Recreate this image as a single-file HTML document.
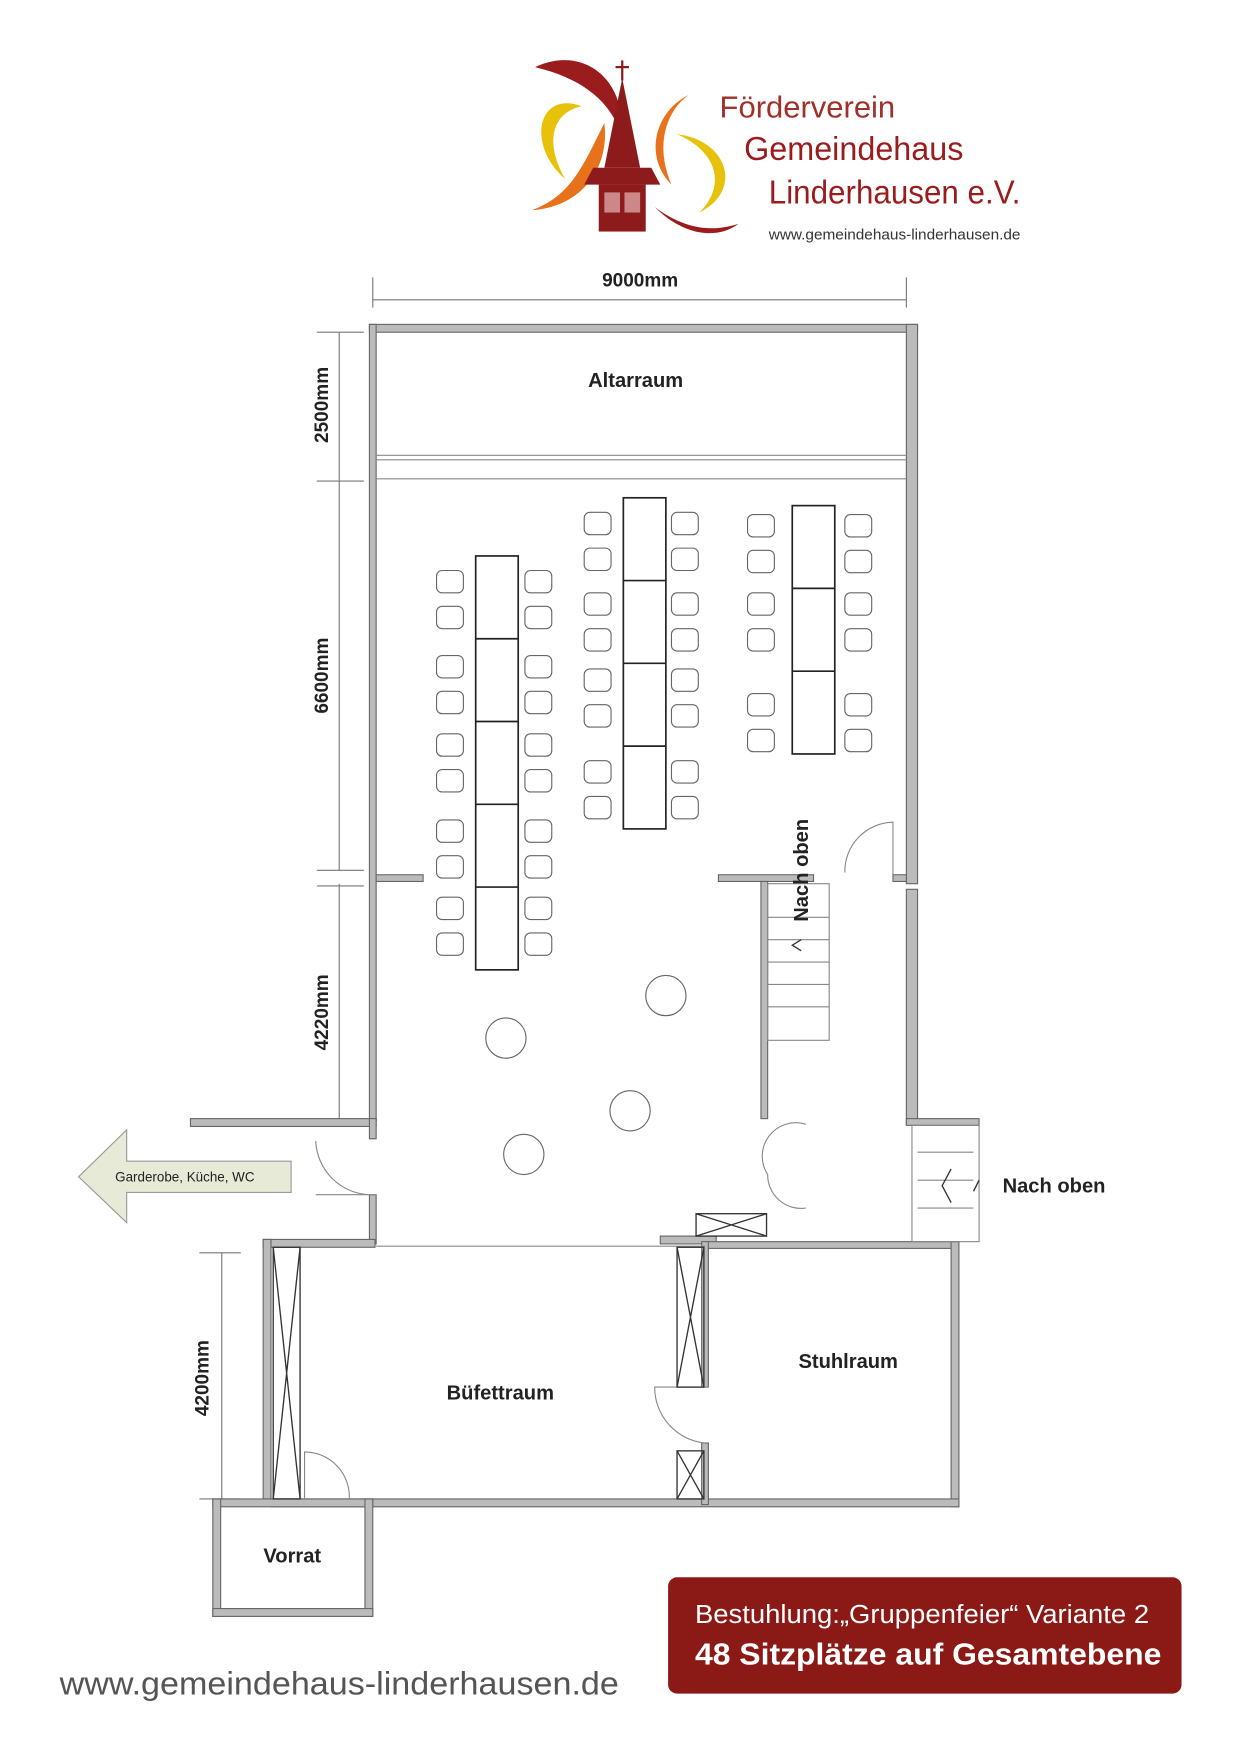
<!DOCTYPE html>
<html><head><meta charset="utf-8"><style>
html,body{margin:0;padding:0;background:#fff}
svg{display:block}
text{font-family:"Liberation Sans",sans-serif}
</style></head><body>
<svg width="1240" height="1754" viewBox="0 0 1108 1568" xmlns="http://www.w3.org/2000/svg">
<rect width="1108" height="1568" fill="#fff"/>
<!-- Logo -->
<path d="M478 60 C520 40 560 70 555 120 C545 90 520 70 478 60Z" fill="#9b1c1c"/>
<path d="M520 95 C480 80 470 130 505 160 C485 125 495 100 520 95Z" fill="#e8c20a"/>
<path d="M540 110 C520 150 510 175 475 188 C520 185 545 150 540 110Z" fill="#e8721c"/>
<path d="M615 85 C585 100 575 140 600 165 C585 130 595 100 615 85Z" fill="#e8721c"/>
<path d="M605 120 C650 125 665 170 625 190 C650 165 640 135 605 120Z" fill="#e8c20a"/>
<path d="M585 185 C610 210 640 215 660 200 C630 210 605 200 585 185Z" fill="#9b1c1c"/>
<polygon points="556,70 540,150 572,150" fill="#8e1b1b"/>
<line x1="556" y1="54" x2="556" y2="72" stroke="#8e1b1b" stroke-width="2"/>
<line x1="550" y1="60" x2="562" y2="60" stroke="#8e1b1b" stroke-width="2"/>
<polygon points="530,150 582,150 590,165 522,165" fill="#8e1b1b"/>
<rect x="535" y="165" width="42" height="42" fill="#8e1b1b"/>
<rect x="540" y="172" width="14" height="18" fill="#c88"/>
<rect x="558" y="172" width="14" height="18" fill="#c88"/>
<text x="643" y="105" font-size="27" fill="#a0302a" textLength="157" lengthAdjust="spacingAndGlyphs">Förderverein</text>
<text x="665" y="143" font-size="30" fill="#9b1c1c" textLength="196" lengthAdjust="spacingAndGlyphs">Gemeindehaus</text>
<text x="687" y="182" font-size="30" fill="#9b1c1c" textLength="225" lengthAdjust="spacingAndGlyphs">Linderhausen e.V.</text>
<text x="687" y="214" font-size="13" fill="#333" textLength="225" lengthAdjust="spacingAndGlyphs">www.gemeindehaus-linderhausen.de</text>

<g stroke="#777" fill="none" stroke-width="1">
<line x1="333" y1="268" x2="810" y2="268"/>
<line x1="333" y1="248" x2="333" y2="275"/><line x1="810" y1="248" x2="810" y2="275"/>
<line x1="303" y1="297" x2="303" y2="778"/><line x1="303" y1="790" x2="303" y2="1000"/>
<line x1="283" y1="297" x2="325" y2="297"/><line x1="283" y1="430" x2="325" y2="430"/>
<line x1="283" y1="778" x2="325" y2="778"/><line x1="283" y1="792" x2="325" y2="792"/>
<line x1="198" y1="1120" x2="198" y2="1340"/>
<line x1="178" y1="1120" x2="215" y2="1120"/><line x1="178" y1="1340" x2="215" y2="1340"/>
</g>
<g font-size="17" fill="#222" font-weight="bold">
<text x="572" y="256" text-anchor="middle">9000mm</text>
<text transform="translate(293,362) rotate(-90)" text-anchor="middle">2500mm</text>
<text transform="translate(293,604) rotate(-90)" text-anchor="middle">6600mm</text>
<text transform="translate(293,905) rotate(-90)" text-anchor="middle">4220mm</text>
<text transform="translate(186,1232) rotate(-90)" text-anchor="middle">4200mm</text>
</g>

<!-- walls -->
<g fill="#bbb" stroke="#666" stroke-width="1">
<rect x="330" y="290" width="490" height="7"/>
<rect x="330" y="290" width="6" height="712"/>
<rect x="810" y="290" width="10" height="500"/>
<rect x="810" y="795" width="10" height="210"/>
<rect x="336" y="782" width="42" height="6"/>
<rect x="642" y="782" width="85" height="6"/>
<rect x="798" y="782" width="12" height="6"/>
<rect x="170" y="1000" width="166" height="7"/>
<rect x="330" y="1000" width="6" height="18"/>
<rect x="330" y="1068" width="6" height="44"/>
<rect x="680" y="788" width="6" height="212"/>
<rect x="810" y="1000" width="65" height="6"/>
<rect x="235" y="1108" width="100" height="7"/>
<rect x="590" y="1105" width="50" height="7"/>
<rect x="630" y="1110" width="227" height="6"/>
<rect x="235" y="1108" width="7" height="232"/>
<rect x="850" y="1110" width="7" height="237"/>
<rect x="242" y="1340" width="615" height="7"/>
<rect x="627" y="1110" width="6" height="130"/>
<rect x="627" y="1290" width="6" height="55"/>
<rect x="190" y="1340" width="143" height="7"/>
<rect x="190" y="1340" width="7" height="105"/>
<rect x="326" y="1340" width="7" height="105"/>
<rect x="190" y="1438" width="143" height="7"/>
</g>
<g stroke="#888" fill="none" stroke-width="1">
<line x1="336" y1="407" x2="810" y2="407"/><line x1="336" y1="411" x2="810" y2="411"/>
<line x1="336" y1="428" x2="810" y2="428"/>
<line x1="336" y1="1114" x2="630" y2="1114"/>
<path d="M798 782 L798 735 A44 44 0 0 0 755 780"/>
<path d="M336 1068 L282 1068 M282 1020 A50 50 0 0 0 330 1068"/>
<path d="M686 1050 A30 30 0 0 1 720 1005 M686 1050 A30 30 0 0 0 720 1080"/>
<path d="M272 1340 L272 1298 A40 40 0 0 1 312 1340"/>
<path d="M633 1240 L585 1240 A50 50 0 0 0 630 1290"/>
<rect x="686" y="790" width="55" height="140"/>
<line x1="686" y1="820" x2="741" y2="820"/><line x1="686" y1="840" x2="741" y2="840"/>
<line x1="686" y1="860" x2="741" y2="860"/><line x1="686" y1="880" x2="741" y2="880"/>
<line x1="686" y1="900" x2="741" y2="900"/>
<rect x="815" y="1006" width="60" height="104"/>
<line x1="820" y1="1030" x2="870" y2="1030"/><line x1="820" y1="1055" x2="870" y2="1055"/><line x1="820" y1="1080" x2="870" y2="1080"/>
</g>
<g stroke="#333" fill="none" stroke-width="1.2">
<rect x="244" y="1115" width="24" height="225"/><path d="M244 1115 L268 1340 M268 1115 L244 1340"/>
<rect x="605" y="1115" width="24" height="125"/><path d="M605 1115 L629 1240 M629 1115 L605 1240"/>
<rect x="605" y="1297" width="24" height="43"/><path d="M605 1297 L629 1340 M629 1297 L605 1340"/>
<rect x="622" y="1085" width="63" height="20"/><path d="M622 1085 L685 1105 M685 1085 L622 1105"/>
<path d="M716 840 L708 845 L716 850 M850 1045 L842 1060 L850 1075 M875 1055 L870 1065"/>
</g>
<g font-size="18" fill="#222" font-weight="bold" text-anchor="middle">
<text x="568" y="346">Altarraum</text>
<text x="447" y="1251">Büfettraum</text>
<text x="758" y="1223">Stuhlraum</text>
<text x="261" y="1397">Vorrat</text>
<text x="942" y="1066">Nach oben</text>
<text transform="translate(722,778) rotate(-90)">Nach oben</text>
</g>

<!-- tables -->
<g stroke="#222" fill="#fff" stroke-width="1.5">
<rect x="425" y="497" width="38" height="370"/>
<path d="M425 571H463M425 645H463M425 719H463M425 793H463" />
<rect x="557" y="445" width="38" height="296"/>
<path d="M557 519H595M557 593H595M557 667H595"/>
<rect x="708" y="452" width="38" height="222"/>
<path d="M708 526H746M708 600H746"/>
</g>
<g stroke="#666" fill="#fff" stroke-width="1">
<g id="c1">
<rect x="390" y="510" width="24" height="20" rx="5"/><rect x="390" y="542" width="24" height="20" rx="5"/>
<rect x="390" y="586" width="24" height="20" rx="5"/><rect x="390" y="618" width="24" height="20" rx="5"/>
<rect x="390" y="656" width="24" height="20" rx="5"/><rect x="390" y="688" width="24" height="20" rx="5"/>
<rect x="390" y="733" width="24" height="20" rx="5"/><rect x="390" y="765" width="24" height="20" rx="5"/>
<rect x="390" y="802" width="24" height="20" rx="5"/><rect x="390" y="834" width="24" height="20" rx="5"/>
</g>
<use href="#c1" x="79"/>
<g id="c2">
<rect x="522" y="458" width="24" height="20" rx="5"/><rect x="522" y="490" width="24" height="20" rx="5"/>
<rect x="522" y="530" width="24" height="20" rx="5"/><rect x="522" y="562" width="24" height="20" rx="5"/>
<rect x="522" y="598" width="24" height="20" rx="5"/><rect x="522" y="630" width="24" height="20" rx="5"/>
<rect x="522" y="680" width="24" height="20" rx="5"/><rect x="522" y="712" width="24" height="20" rx="5"/>
</g>
<use href="#c2" x="78"/>
<g id="c3">
<rect x="668" y="460" width="24" height="20" rx="5"/><rect x="668" y="492" width="24" height="20" rx="5"/>
<rect x="668" y="530" width="24" height="20" rx="5"/><rect x="668" y="562" width="24" height="20" rx="5"/>
<rect x="668" y="620" width="24" height="20" rx="5"/><rect x="668" y="652" width="24" height="20" rx="5"/>
</g>
<use href="#c3" x="87"/>
<circle cx="595" cy="890" r="18"/><circle cx="452" cy="928" r="18"/>
<circle cx="563" cy="993" r="18"/><circle cx="468" cy="1032" r="18"/>
</g>

<!-- arrow -->
<polygon points="70,1052 113,1010 113,1038 260,1038 260,1066 113,1066 113,1093" fill="#e6ead6" stroke="#999"/>
<text x="165" y="1056" font-size="12" fill="#222" text-anchor="middle">Garderobe, Küche, WC</text>

<!-- bottom box -->
<rect x="597" y="1410" width="459" height="104" rx="8" fill="#8b1a17"/>
<text x="621" y="1451" font-size="23" fill="#fff" textLength="406" lengthAdjust="spacingAndGlyphs">Bestuhlung:„Gruppenfeier“ Variante 2</text>
<text x="621" y="1488" font-size="27" font-weight="bold" fill="#fff" textLength="417" lengthAdjust="spacingAndGlyphs">48 Sitzplätze auf Gesamtebene</text>
<text x="53" y="1515" font-size="29" fill="#555" textLength="500" lengthAdjust="spacingAndGlyphs">www.gemeindehaus-linderhausen.de</text>
</svg>
</body></html>
